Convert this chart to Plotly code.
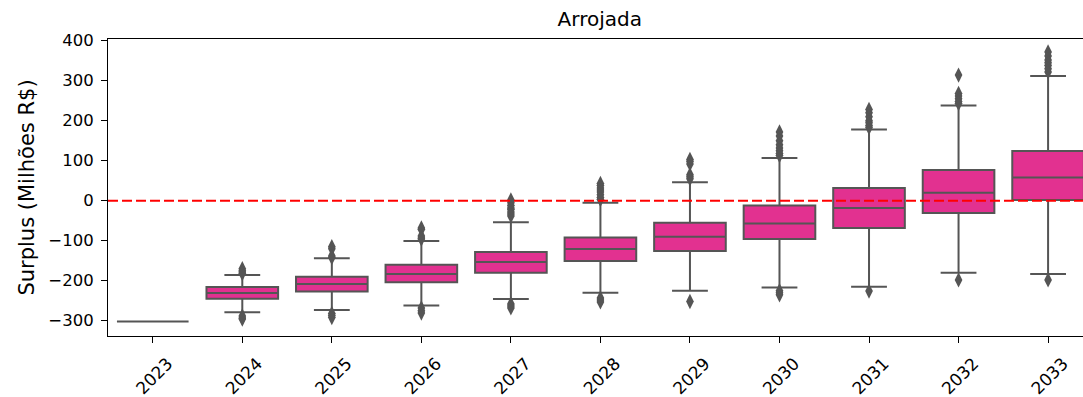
import plotly.graph_objects as go

# Years on the category axis
years = ["2023", "2024", "2025", "2026", "2027", "2028", "2029", "2030", "2031", "2032", "2033"]

# Box statistics per year (Milhões R$)
q1 = [-302, -245, -227, -204, -180, -151, -126, -96, -68, -31, 2]
median = [-302, -231, -208, -183, -153, -121, -90, -57, -18, 20, 58]
q3 = [-302, -216, -190, -160, -128, -92, -55, -12, 32, 77, 124]
lower_fence = [-302, -279, -273, -262, -246, -230, -225, -217, -215, -180, -183]
upper_fence = [-302, -186, -144, -101, -54, -5, 46, 107, 178, 238, 312]

# Outlying scenarios per year
outliers = {
    "2024": [-170, -175, -178, -182, -288, -293, -296],
    "2025": [-115, -120, -138, -142, -282, -287, -292],
    "2026": [-68, -72, -88, -93, -96, -268, -275, -281],
    "2027": [2, -5, -12, -18, -22, -28, -33, -38, -258, -263, -268],
    "2028": [43, 38, 32, 27, 22, 15, 8, 3, -243, -248, -253],
    "2029": [103, 98, 92, 65, 60, 55, -252],
    "2030": [172, 162, 150, 140, 132, 125, 118, 113, -225, -230, -235],
    "2031": [228, 220, 210, 200, 195, 188, 183, -226],
    "2032": [314, 268, 262, 255, 248, 243, -198],
    "2033": [372, 362, 352, 345, 338, 330, 322, -198],
}

break_even = 0

y_ticks = [-300, -200, -100, 0, 100, 200, 300, 400]
y_tick_text = ["\u2212300", "\u2212200", "\u2212100", "0", "100", "200", "300", "400"]

box_fill = "#e23190"
edge = "#555555"
font_family = "DejaVu Sans"

fig = go.Figure()

fig.add_trace(go.Box(
    x=years,
    q1=q1,
    median=median,
    q3=q3,
    lowerfence=lower_fence,
    upperfence=upper_fence,
    width=0.8,
    fillcolor=box_fill,
    line=dict(color=edge, width=2),
    whiskerwidth=0.5,
    boxpoints=False,
    showlegend=False,
    hoverinfo="skip",
))

out_x = [yr for yr, vals in outliers.items() for _ in vals]
out_y = [v for vals in outliers.values() for v in vals]
fig.add_trace(go.Scatter(
    x=out_x,
    y=out_y,
    mode="markers",
    marker=dict(symbol="diamond-tall", size=11, color=edge, line=dict(width=0)),
    showlegend=False,
    hoverinfo="skip",
))

fig.add_hline(y=break_even, line=dict(color="red", width=2, dash="10px,4px"), layer="above")

fig.update_layout(
    width=1083,
    height=397,
    margin=dict(l=108, r=0, t=39, b=61),
    paper_bgcolor="white",
    plot_bgcolor="white",
    font=dict(family=font_family, color="black", size=17),
    title=dict(
        text="Arrojada",
        font=dict(family=font_family, size=20, color="black"),
        x=0.5044,
        xref="paper",
        xanchor="center",
        y=0.952,
        yref="container",
        yanchor="middle",
    ),
    xaxis=dict(
        type="category",
        range=[-0.5, 10.39],
        showline=True,
        linecolor="black",
        linewidth=1,
        mirror=True,
        ticks="outside",
        ticklen=6,
        tickcolor="black",
        tickangle=-45,
        tickfont=dict(size=17),
        ticklabelshift=15,
        ticklabelstandoff=4,
        showgrid=False,
        zeroline=False,
    ),
    yaxis=dict(
        range=[-338.25, 404.25],
        tickvals=y_ticks,
        ticktext=y_tick_text,
        showline=True,
        linecolor="black",
        linewidth=1,
        ticks="outside",
        ticklen=6,
        tickcolor="black",
        tickfont=dict(size=16.5),
        ticklabelstandoff=4,
        showgrid=False,
        zeroline=False,
        title=dict(text="Surplus (Milhões R$)", font=dict(size=21), standoff=8),
    ),
)

fig.write_html("out.html")
